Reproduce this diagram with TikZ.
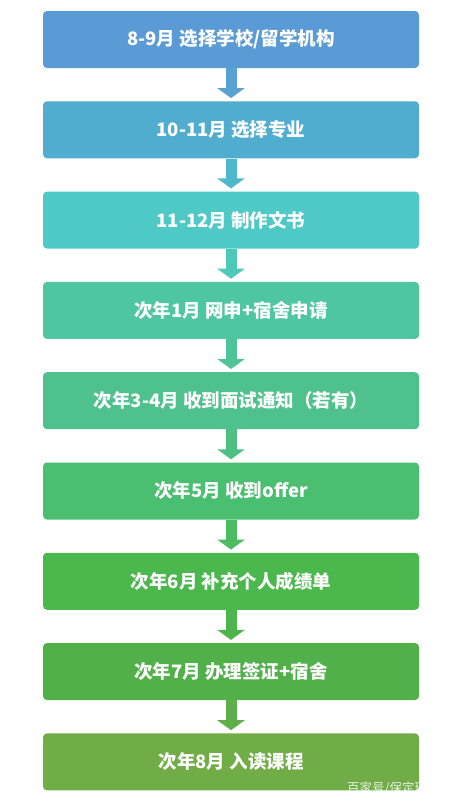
\documentclass[tikz,border=0pt]{standalone}
\usepackage{fontspec}
\newfontfamily\cjk{Noto Sans CJK SC}
\usetikzlibrary{arrows.meta}
\definecolor{m1}{HTML}{5B9BD5}
\definecolor{m2}{HTML}{50ADCF}
\definecolor{m3}{HTML}{4EC9C6}
\definecolor{m4}{HTML}{4EC6A0}
\definecolor{m5}{HTML}{4FC18C}
\definecolor{m6}{HTML}{4BBF70}
\definecolor{m7}{HTML}{4AB84C}
\definecolor{m8}{HTML}{52B04A}
\definecolor{m9}{HTML}{70AD47}
\begin{document}
\begin{tikzpicture}[x=1pt, y=-1pt,
  stage/.style = {rounded corners=4pt, minimum width=376pt, minimum height=57pt, inner sep=0pt, text=white, font=\cjk\bfseries\fontsize{18.5}{22}\selectfont},
  flow/.style = {line width=11pt, -{Triangle[width=27pt,length=10pt]}, shorten >=3pt}]
	\useasboundingbox (0,0) rectangle (468,803);
	
	\node[stage, fill=m1] (s1) at (231,39.5) {8-9月 选择学校/留学机构};
	\node[stage, fill=m2] (s2) at (231,129.8) {10-11月 选择专业};
	\node[stage, fill=m3] (s3) at (231,220.1) {11-12月 制作文书};
	\node[stage, fill=m4] (s4) at (231,310.4) {次年1月 网申+宿舍申请};
	\node[stage, fill=m5] (s5) at (231,400.7) {次年3-4月 收到面试通知（若有）};
	\node[stage, fill=m6] (s6) at (231,491) {次年5月 收到offer};
	\node[stage, fill=m7] (s7) at (231,581.3) {次年6月 补充个人成绩单};
	\node[stage, fill=m8] (s8) at (231,671.6) {次年7月 办理签证+宿舍};
	\node[stage, fill=m9] (s9) at (231,761.9) {次年8月 入读课程};
	
	\node[anchor=base west, inner sep=0pt, text=white, text opacity=0.85, font=\cjk\fontsize{12.5}{14}\selectfont] (wm) at (347,792) {百家号/保定环};
	
	\draw[flow, m1!60!m2] (s1) -- (s2);
	\draw[flow, m2!60!m3] (s2) -- (s3);
	\draw[flow, m3!60!m4] (s3) -- (s4);
	\draw[flow, m4!60!m5] (s4) -- (s5);
	\draw[flow, m5!60!m6] (s5) -- (s6);
	\draw[flow, m6!60!m7] (s6) -- (s7);
	\draw[flow, m7!60!m8] (s7) -- (s8);
	\draw[flow, m8!60!m9] (s8) -- (s9);
	
\end{tikzpicture}
\end{document}
